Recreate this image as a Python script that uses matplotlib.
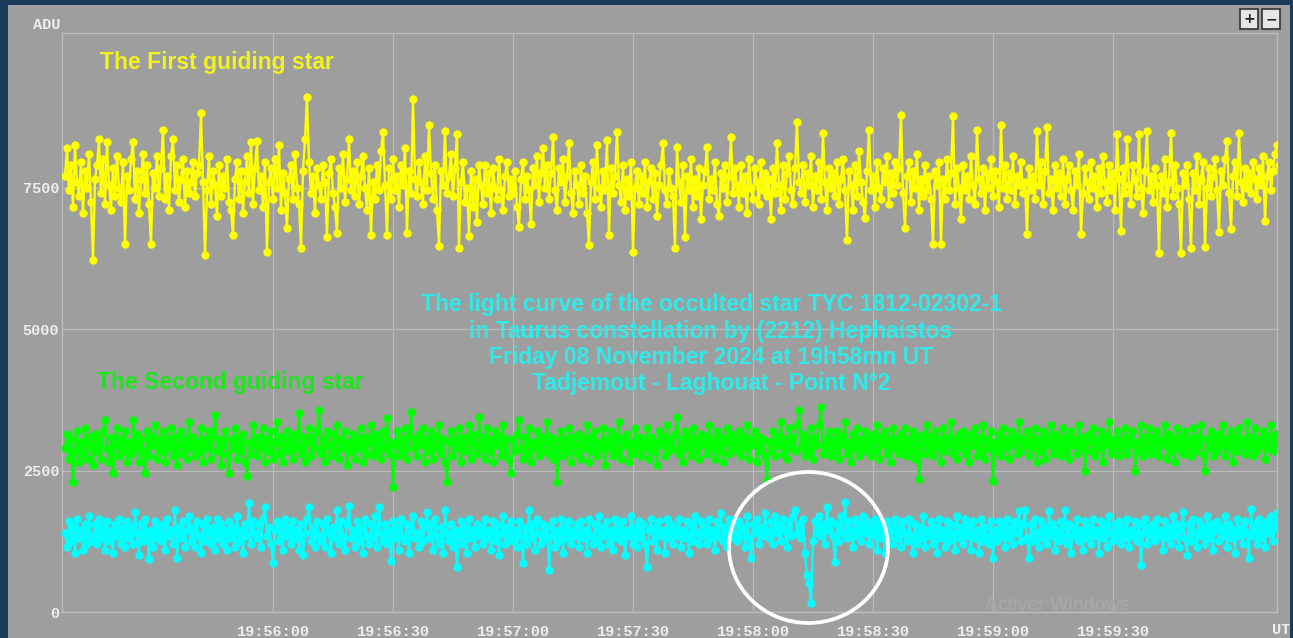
import numpy as np
import matplotlib
matplotlib.use("Agg")
import matplotlib.pyplot as plt
from matplotlib.patches import Ellipse, Rectangle

# ---------------- data (ADU, one sample every 0.5 s from 19:55:08 UT) ----------------
first_star = [
    7700, 8200, 7450, 7900, 7150, 8250, 7600, 7350, 7950, 7050, 7800, 7500, 8100, 7250, 6220, 7650,
    7900, 8350, 7400, 8000, 7200, 8300, 7550, 7100, 7850, 7350, 8050, 7500, 7250, 7950, 6500, 7700,
    7450, 8000, 8300, 7300, 7800, 7050, 7650, 8100, 7400, 7900, 7200, 6500, 7750, 7500, 8050, 7350,
    7850, 8520, 7300, 7700, 7100, 8050, 8350, 7450, 7900, 7250, 7650, 8000, 7150, 7800, 7400, 7600,
    7950, 7350, 7750, 7900, 8820, 7600, 6300, 7450, 8050, 7200, 7800, 7550, 7000, 7900, 7350, 7700,
    7500, 8000, 7250, 7100, 6660, 7650, 7950, 7300, 7800, 7050, 7600, 8050, 7400, 8300, 7200, 7850,
    8320, 7450, 7700, 7150, 7950, 6360, 7600, 7850, 7300, 8000, 7500, 8250, 7100, 7750, 7400, 6780,
    7650, 7900, 7300, 8100, 7500, 7200, 6430, 7800, 8350, 9100, 7950, 7400, 7700, 7050, 7850, 7550,
    7300, 7900, 7600, 6620, 7750, 8000, 7400, 7150, 6700, 7850, 7500, 8100, 7250, 7650, 8350, 7450,
    7800, 7350, 7950, 7200, 7700, 8050, 7500, 7100, 7850, 6660, 7600, 7300, 7900, 7450, 8150, 8480,
    7550, 6660, 7850, 7300, 8000, 7450, 7700, 7150, 7900, 7550, 8200, 6700, 7800, 7400, 9060, 7650,
    7350, 7950, 7600, 7200, 8050, 7450, 8600, 7750, 7300, 7900, 7100, 6470, 7800, 7550, 8500, 7400,
    7700, 8100, 7350, 7850, 8450, 6430, 7600, 7950, 7250, 7500, 6650, 7800, 7150, 7650, 6890, 7900,
    7550, 7200, 7900, 7400, 7750, 7050, 7850, 7500, 7300, 8000, 7450, 7100, 7700, 7950, 7350, 7650,
    7400, 7800, 7150, 6800, 7650, 7950, 7300, 7700, 7450, 6850, 7850, 7550, 8050, 7250, 7750, 8200,
    7500, 7900, 7300, 7750, 8390, 7450, 7100, 7850, 7600, 8000, 7250, 7700, 8290, 7400, 7050, 7800,
    7550, 7200, 7900, 7400, 7700, 7050, 6480, 7600, 7950, 7300, 8250, 7500, 7150, 7800, 7450, 8340,
    6660, 7850, 7400, 7700, 8480, 7550, 7250, 7900, 7100, 7650, 7350, 7950, 6360, 7500, 7800, 7200,
    7700, 7400, 7950, 7150, 7600, 7850, 7300, 7750, 7000, 7550, 7900, 8290, 7450, 7200, 7800, 7500,
    7350, 6430, 8220, 7600, 7250, 7900, 6630, 7700, 7450, 8000, 7150, 7650, 7350, 7850, 6950, 7550,
    7800, 8220, 7300, 7650, 7450, 7950, 7200, 7000, 7750, 7500, 7900, 7250, 7700, 8390, 7400, 7850,
    7550, 7150, 7900, 7400, 7700, 7050, 8000, 7500, 7300, 7850, 7600, 7200, 7950, 7450, 7750, 7350,
    7650, 6950, 7850, 7400, 8290, 7550, 7100, 7900, 7300, 7750, 8050, 7450, 7200, 7850, 8660, 7600,
    7400, 7900, 7250, 7750, 7550, 8050, 7150, 7700, 7450, 7950, 7300, 8470, 7600, 7100, 7850, 7500,
    7750, 7350, 7950, 7200, 7650, 8000, 7450, 6570, 7800, 7550, 7100, 7900, 7350, 8150, 7600, 7250,
    6970, 7800, 8520, 7450, 7700, 7150, 7950, 7500, 7300, 7850, 7600, 8050, 7200, 7750, 7400, 7950,
    7550, 7850, 8780, 7400, 6790, 7700, 7950, 7250, 7800, 7500, 8100, 7100, 7650, 7350, 7900, 7450,
    7700, 7300, 6500, 7800, 7550, 7950, 6500, 7650, 7300, 8000, 7450, 7750, 8760, 7200, 7850, 7500,
    6950, 7900, 7450, 7700, 7300, 8050, 7550, 7200, 8520, 7650, 7400, 7850, 7100, 7750, 7500, 8000,
    7350, 7800, 7600, 7150, 8600, 7500, 7900, 7300, 7750, 7450, 8050, 7200, 7700, 7550, 7950, 7400,
    7600, 6680, 7850, 7450, 7700, 7300, 8500, 7550, 7950, 7200, 7800, 8570, 7400, 7650, 7100, 7900,
    7500, 7750, 7350, 8000, 7200, 7650, 7900, 7450, 7100, 7800, 7550, 8100, 6680, 7400, 7850, 7600,
    7300, 7950, 7500, 7700, 7150, 7850, 7400, 8050, 7600, 7250, 7900, 7450, 7750, 7100, 8440, 7650,
    6740, 7850, 7400, 8350, 7550, 7200, 7900, 7650, 7350, 8440, 7500, 7050, 7800, 8490, 7450, 7700,
    7250, 7850, 7550, 6340, 7700, 7400, 8000, 7150, 7600, 8460, 7350, 7900, 7500, 7200, 6340, 7750,
    7550, 7900, 7300, 6430, 7750, 7450, 8050, 7200, 7650, 7950, 6450, 7500, 7850, 7350, 7700, 8000,
    7450, 6720, 7800, 7550, 8000, 8320, 7400, 6760, 7700, 7950, 7350, 8460, 7600, 7250, 7850, 7500,
    7750, 7400, 7950, 7650, 7300, 7850, 7550, 8050, 6900, 7700, 7950, 7450, 7800, 8100, 8250, 7900,
]

second_star = [
    2900, 3150, 2700, 3050, 2300, 2850, 3200, 2650, 3000, 2800, 3250, 2700, 3100, 2950, 2600, 3150,
    2850, 3050, 2700, 3200, 3390, 2900, 2650, 3100, 2450, 2950, 3250, 2750, 3050, 2850, 3200, 2650,
    3000, 2800, 3400, 2900, 3150, 2650, 3050, 2850, 2450, 3200, 2750, 3100, 2950, 3300, 2700, 3050,
    2850, 3200, 2650, 3050, 2900, 3250, 2750, 3100, 2600, 2950, 3200, 2800, 3050, 2700, 3350, 2900,
    3100, 2750, 3000, 2850, 3250, 2650, 3050, 2900, 3200, 2700, 3100, 3480, 2850, 3050, 2600, 2950,
    3200, 2800, 2450, 3050, 2900, 3250, 2700, 3100, 2850, 3150, 2650, 2400, 3000, 2800, 3300, 2950,
    2750, 3100, 2900, 3250, 2650, 3050, 2850, 3200, 2700, 3000, 3350, 2800, 3100, 2650, 2950, 3200,
    2850, 3050, 2700, 3150, 2900, 3520, 2800, 3100, 2650, 3000, 3250, 2750, 3100, 2900, 3200, 3570,
    2800, 3050, 2650, 3200, 2950, 2750, 3150, 2850, 3300, 2700, 3050, 2900, 3200, 2600, 3000, 2850,
    3150, 2700, 3050, 2900, 3250, 2650, 3100, 2800, 3000, 3300, 2750, 3150, 2850, 3050, 2700, 3200,
    2900, 3430, 2800, 3000, 2210, 2950, 3200, 2750, 3050, 2850, 3250, 2700, 3100, 3530, 2900, 3050,
    2750, 3150, 2950, 3250, 2650, 3050, 2850, 3200, 2700, 3100, 2900, 3300, 2800, 3050, 2650, 2300,
    3000, 3200, 2750, 3050, 2900, 3250, 2650, 3100, 2850, 3000, 3300, 2700, 3150, 2950, 2800, 3450,
    2900, 3100, 2700, 3250, 2850, 3050, 2650, 3200, 2950, 3100, 2750, 3300, 2850, 3050, 2700, 2450,
    3050, 2850, 3150, 3400, 2900, 2700, 3100, 2800, 3250, 2650, 3000, 2900, 3200, 2750, 3100, 2850,
    3000, 3350, 2800, 3100, 2700, 3050, 2300, 2900, 3200, 2750, 3050, 2850, 3250, 2650, 3100, 2950,
    2800, 3150, 2700, 3050, 2900, 3300, 2650, 3100, 2850, 3200, 2750, 3000, 2900, 3250, 2600, 3050,
    2900, 3200, 2750, 3100, 2850, 3350, 2700, 3050, 2950, 3150, 2650, 3000, 2800, 3250, 2900, 3100,
    2750, 3050, 2900, 3250, 2700, 3100, 2850, 3000, 2600, 3200, 2950, 3100, 2750, 3300, 2850, 3050,
    2900, 3150, 3450, 2800, 3050, 2650, 3200, 2900, 3100, 2750, 3250, 2850, 3050, 2700, 3150, 2950,
    3100, 2800, 3300, 2900, 3050, 2700, 3200, 2850, 3100, 2650, 3000, 3250, 2800, 3150, 2900, 3050,
    2850, 3200, 2750, 3100, 2900, 3300, 2700, 3050, 2950, 3200, 2650, 3100, 2850, 3050, 2750, 2330,
    3000, 2850, 3200, 2750, 3100, 2950, 3350, 2800, 3050, 2700, 3250, 2900, 3100, 2850, 3300, 3570,
    2900, 3150, 2750, 3050, 2850, 3250, 2700, 3100, 2950, 3300, 3620, 2800, 3050, 2900, 3200, 2750,
    3050, 2850, 3200, 2700, 3100, 2950, 3350, 2800, 3000, 2650, 3150, 2900, 3250, 2750, 3050, 2850,
    3200, 2900, 3050, 2750, 3150, 2850, 3300, 2700, 3100, 2950, 3200, 2800, 3050, 2650, 3250, 2900,
    3050, 2800, 3150, 2900, 3250, 2750, 3050, 2850, 3200, 2700, 3100, 2350, 2950, 3150, 2800, 3300,
    2850, 3100, 2750, 3200, 2900, 3050, 2650, 3250, 2850, 3100, 2950, 3350, 2800, 3050, 2700, 3150,
    2900, 3200, 2800, 3050, 2650, 3150, 2950, 3250, 2750, 3100, 2850, 3300, 2700, 3050, 2900, 3200,
    2310, 3000, 2850, 3150, 2750, 3250, 2900, 3050, 2700, 3200, 2950, 3100, 2800, 3350, 2850, 3050,
    2950, 3200, 2750, 3100, 2900, 3250, 2650, 3050, 2850, 3200, 2700, 3100, 2950, 3300, 2800, 3150,
    2900, 3050, 2750, 3250, 2850, 3100, 2700, 3200, 2950, 3050, 2800, 3300, 2900, 3100, 2500, 3000,
    3150, 2850, 3250, 2750, 3050, 2900, 3200, 2650, 3100, 2950, 3350, 2800, 3050, 2900, 3200, 2750,
    3050, 2900, 3250, 2800, 3100, 2950, 3200, 2500, 3000, 2850, 3300, 2750, 3100, 2900, 3250, 2800,
    3100, 2850, 3200, 2750, 3050, 2950, 3300, 2700, 3150, 2850, 3050, 2650, 3250, 2900, 3100, 2800,
    3200, 2900, 3050, 2750, 3250, 2850, 3100, 2950, 3300, 2800, 2500, 3050, 2900, 3200, 2750, 3100,
    2850, 3150, 2950, 3300, 2750, 3050, 2900, 3200, 2650, 3100, 2850, 3250, 2950, 3050, 2800, 3350,
    2900, 3100, 2750, 3250, 2850, 3050, 2950, 3200, 2700, 3100, 2900, 3300, 2850, 3050, 3150, 2950,
]

occulted_star = [
    1400, 1150, 1600, 1250, 1500, 1050, 1650, 1300, 1450, 1100, 1550, 1200, 1700, 1350, 1250, 1550,
    1200, 1650, 1300, 1500, 1100, 1600, 1250, 1450, 1050, 1550, 1350, 1650, 1200, 1500, 1150, 1600,
    1300, 1500, 1200, 1760, 1400, 1000, 1550, 1250, 1650, 1350, 930, 1450, 1150, 1600, 1300, 1500,
    1250, 1550, 1100, 1650, 1350, 1450, 1200, 1800, 960, 1500, 1300, 1600, 1150, 1450, 1700, 1250,
    1500, 1150, 1600, 1350, 1050, 1550, 1250, 1650, 1400, 1200, 1500, 1100, 1650, 1300, 1550, 1200,
    1450, 1100, 1600, 1300, 1500, 1150, 1700, 1250, 1450, 1050, 1550, 1350, 1930, 1200, 1600, 1400,
    1300, 1550, 1150, 1650, 1850, 1350, 1500, 1200, 870, 1450, 1600, 1250, 1550, 1100, 1650, 1350,
    1500, 1200, 1600, 1300, 1450, 1100, 1550, 1000, 1400, 1650, 1850, 1250, 1500, 1150, 1600, 1350,
    1250, 1550, 1150, 1650, 1400, 1050, 1500, 1300, 1800, 1200, 1600, 1350, 1100, 1550, 1880, 1300,
    1450, 1150, 1600, 1250, 1500, 1050, 1650, 1350, 1200, 1550, 1300, 1700, 1150, 1850, 1400, 1250,
    1550, 1200, 1450, 900, 1600, 1300, 1500, 1100, 1650, 1350, 1250, 1550, 1050, 1450, 1700, 1300,
    1400, 1150, 1600, 1250, 1500, 1770, 1300, 1550, 1100, 1650, 1350, 1200, 1500, 1050, 1800, 1400,
    1250, 1550, 1150, 1450, 800, 1350, 1600, 1200, 1500, 1050, 1650, 1300, 1450, 1150, 1550, 1350,
    1500, 1200, 1650, 1300, 1450, 1100, 1600, 1250, 1550, 1000, 1400, 1700, 1200, 1500, 1300, 1600,
    1250, 1450, 1150, 1600, 1350, 870, 1500, 1200, 1800, 1300, 1550, 1100, 1650, 1400, 1200, 1550,
    1300, 1500, 740, 1350, 1600, 1150, 1450, 1250, 1650, 1050, 1500, 1300, 1600, 1200, 1450, 1350,
    1550, 1150, 1600, 1300, 1450, 1050, 1650, 1350, 1200, 1550, 1250, 1700, 1150, 1500, 1350, 1600,
    1200, 1450, 1100, 1650, 1300, 1550, 1250, 1600, 1000, 1450, 1350, 1700, 1200, 1500, 1150, 1600,
    1300, 1550, 1200, 800, 1450, 1650, 1250, 1500, 1100, 1600, 1350, 1450, 1050, 1650, 1300, 1550,
    1200, 1500, 1350, 1650, 1150, 1450, 1300, 1600, 1050, 1550, 1250, 1700, 1400, 1200, 1600, 1350,
    1500, 1200, 1650, 1300, 1450, 1100, 1600, 1350, 1750, 1250, 1500, 1150, 1650, 1300, 1550, 1400,
    1250, 1600, 1350, 1500, 1150, 1700, 1300, 950, 1550, 1400, 1650, 1200, 1500, 1350, 1750, 1450,
    1300, 1600, 1200, 1700, 1400, 1550, 1250, 1650, 1450, 1150, 1600, 1350, 1700, 1800, 1400, 1550,
    1300, 1650, 1050, 650, 510, 160, 1250, 1600, 1400, 1700, 1350, 1550, 1200, 1860, 1450, 1600,
    1350, 880, 1550, 1250, 1700, 1400, 1940, 1300, 1600, 1450, 1150, 1650, 1350, 1550, 1250, 1700,
    1400, 1600, 1200, 1500, 1350, 1650, 1100, 1550, 1300, 1450, 1050, 1600, 1350, 1500, 1200, 1650,
    1300, 1500, 1150, 1600, 1400, 1250, 1650, 1350, 1050, 1550, 1200, 1500, 1300, 1700, 1150, 1450,
    1350, 1600, 1200, 1500, 1050, 1650, 1300, 1450, 1150, 1600, 1250, 1550, 1400, 1100, 1700, 1300,
    1500, 1200, 1650, 1350, 1550, 1100, 1600, 1300, 1450, 1050, 1650, 1250, 1500, 1350, 1200, 1600,
    950, 1450, 1250, 1600, 1350, 1550, 1150, 1650, 1300, 1500, 1200, 1600, 1400, 1790, 1250, 1550,
    1800, 1300, 950, 1550, 1250, 1650, 1400, 1150, 1600, 1300, 1500, 1200, 1780, 1350, 1550, 1100,
    1450, 1250, 1600, 1350, 1800, 1200, 1550, 1050, 1500, 1350, 1650, 1250, 1450, 1100, 1600, 1300,
    1500, 1200, 1650, 1350, 1450, 1050, 1600, 1300, 1550, 1150, 1700, 1400, 1250, 1550, 1350, 1600,
    1200, 1500, 1300, 1650, 1150, 1450, 1350, 1600, 1250, 1550, 830, 1400, 1650, 1200, 1500, 1350,
    1550, 1250, 1650, 1350, 1450, 1100, 1600, 1300, 1500, 1200, 1700, 1350, 1550, 1150, 1450, 1760,
    1300, 1000, 1550, 1250, 1650, 1400, 1150, 1600, 1350, 1500, 1200, 1700, 1300, 1550, 1100, 1450,
    1600, 1250, 1500, 1350, 1700, 1150, 1550, 1300, 1450, 1050, 1650, 1350, 1500, 1200, 1600, 1400,
    950, 1820, 1350, 1550, 1200, 1650, 1300, 1500, 1150, 1600, 1400, 1700, 1250, 1550, 1750, 1450,
]

# sampling grid: seconds after 19:55:00 UT, first sample 19:55:08, cadence 0.5 s
start_second = 8.0
cadence_s = 0.5

tick_seconds = [60, 90, 120, 150, 180, 210, 240, 270]
tick_labels = ["19:56:00", "19:56:30", "19:57:00", "19:57:30",
               "19:58:00", "19:58:30", "19:59:00", "19:59:30"]
y_ticks = [0, 2500, 5000, 7500]
y_tick_labels = ["0", "2500", "5000", "7500"]

title_lines = [
    "The light curve of the occulted star TYC 1812-02302-1",
    "in Taurus constellation by (2212) Hephaistos",
    "Friday 08 November 2024 at 19h58mn UT",
    "Tadjemout - Laghouat - Point N°2",
]


def times_for(series):
    return start_second + cadence_s * np.arange(len(series))


# ---------------- figure ----------------
W, H = 1293, 638
fig = plt.figure(figsize=(W / 100, H / 100), dpi=100, facecolor="#1b3a5a")


def fx(px):
    return px / W


def fy(py):
    return 1 - py / H


PANEL = "#9e9e9e"
fig.add_artist(Rectangle((fx(8), 0), fx(1290) - fx(8), fy(5), transform=fig.transFigure,
                         facecolor=PANEL, edgecolor="none", zorder=-5))

ax = fig.add_axes([fx(62), fy(612), fx(1277) - fx(62), fy(33) - fy(612)])
ax.set_facecolor(PANEL)
ax.set_xlim(7.25, 311.0)
ax.set_ylim(0, 10230)

kw = dict(marker="o", markersize=6.0, linewidth=1.7, markeredgewidth=0)
ax.plot(times_for(occulted_star), occulted_star, color="#00ffff", **kw, zorder=3)
ax.plot(times_for(second_star), second_star, color="#00ff00", **kw, zorder=3)
ax.plot(times_for(first_star), first_star, color="#ffff00", **kw, zorder=3)

ax.set_xticks(tick_seconds)
ax.set_xticklabels(tick_labels)
ax.set_yticks(y_ticks)
ax.set_yticklabels(y_tick_labels)
ax.grid(True, color="#bababa", linewidth=0.9)
ax.set_axisbelow(True)
for s in ax.spines.values():
    s.set_color("#bdbdbd")
    s.set_linewidth(1.0)
tick_font = dict(family="Liberation Mono", weight="bold", size=11)
ax.tick_params(axis="both", length=0, labelcolor="#eeeeee")
ax.tick_params(axis="x", pad=9)
ax.tick_params(axis="y", pad=2)
for lab in ax.get_xticklabels() + ax.get_yticklabels():
    lab.set_fontfamily("Liberation Mono")
    lab.set_fontweight("bold")
    lab.set_fontsize(11)

fig.text(fx(60), fy(25), "ADU", ha="right", va="center", color="#eeeeee", **tick_font)
fig.text(fx(1272), fy(630), "UT", ha="left", va="center", color="#eeeeee", **tick_font)

# faint OS watermark
fig.text(fx(985), fy(605), "Activer Windows", ha="left", va="center", color="#a9a9a9",
         family="Liberation Sans", size=14, zorder=1)

# annotations
lab_font = dict(family="Liberation Sans", weight="bold", size=16.5)
fig.text(fx(100), fy(62), "The First guiding star", ha="left", va="center",
         color="#f2f21e", **lab_font)
fig.text(fx(97), fy(383), "The Second guiding star", ha="left", va="center",
         color="#1ee61e", **lab_font)
for i, line in enumerate(title_lines):
    fig.text(fx(711), fy(305 + 26.3 * i), line, ha="center", va="center",
             color="#30eaea", **lab_font)

# white circle around the event
fig.add_artist(Ellipse((fx(808.5), fy(547.5)), 159 / W, 151 / H, transform=fig.transFigure,
                       facecolor="none", edgecolor="white", linewidth=2.7, zorder=10))

# zoom buttons
for x0, sym in [(1240, "+"), (1262, "\u2212")]:
    fig.add_artist(Rectangle((fx(x0), fy(29)), 18 / W, 20 / H, transform=fig.transFigure,
                             facecolor="#e6e6e6", edgecolor="#333333", linewidth=1.2, zorder=10))
    fig.text(fx(x0 + 9), fy(19), sym, ha="center", va="center", color="#222222",
             family="DejaVu Sans", weight="bold", size=10, zorder=11)

fig.savefig("out.png", dpi=100, facecolor=fig.get_facecolor())
